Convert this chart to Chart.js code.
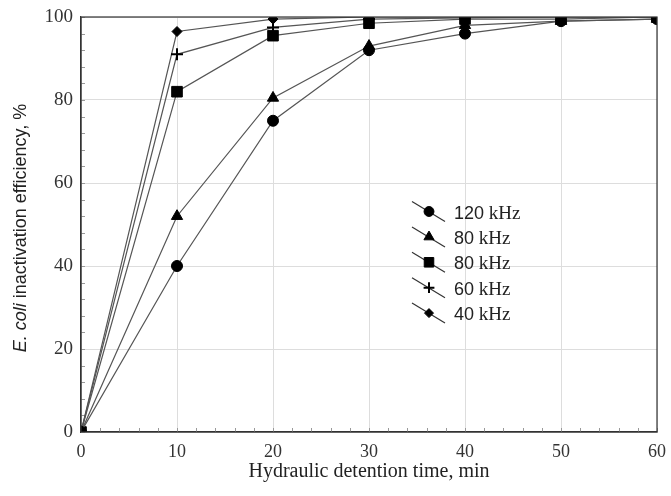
<!DOCTYPE html>
<html><head><meta charset="utf-8">
<script src="https://cdn.jsdelivr.net/npm/chart.js@4"></script>
<style>html,body{margin:0;padding:0;background:#fff}#wrap{width:671px;height:496px}</style>
</head><body><div id="wrap"><canvas id="c" width="671" height="496"></canvas></div>
<script>
const times = [0, 10, 20, 30, 40, 50, 60];
const seriesLabels = ["120 kHz", "80 kHz", "80 kHz", "60 kHz", "40 kHz"];
const s120 = [0, 40, 75, 92, 96, 99, 99.5];
const s80a = [0, 52, 80.5, 93, 98, 99, 99.5];
const s80b = [0, 82, 95.5, 98.5, 99.5, 99.5, 100];
const s60 = [0, 91, 97.5, 99.5, 99.8, 100, 100];
const s40 = [0, 96.5, 99.5, 100, 100, 100, 100];
const pointStyles = ["circle", "triangle", "rect", "cross", "rectRot"];
const pointSizes = [5.5, 6.5, 7.5, 6, 5];
const xTicks = [0, 10, 20, 30, 40, 50, 60];
const yTicks = [0, 20, 40, 60, 80, 100];

const allSeries = [s120, s80a, s80b, s60, s40];
const datasets = allSeries.map((s, i) => ({
  label: seriesLabels[i],
  data: s.map((v, j) => ({x: times[j], y: v})),
  borderColor: '#555',
  borderWidth: 1.2,
  pointStyle: pointStyles[i],
  pointRadius: pointSizes[i],
  pointBorderWidth: pointStyles[i] === 'cross' ? 2 : 1,
  pointBackgroundColor: '#000',
  pointBorderColor: '#000',
  tension: 0
}));

const decor = {
  id: 'decor',
  beforeDatasetsDraw(chart) {
    const {ctx, chartArea: a, scales: {x, y}} = chart;
    ctx.save();
    ctx.strokeStyle = '#999';
    ctx.lineWidth = 1;
    for (let v = 0; v <= 60; v += 2) {
      const px = Math.round(x.getPixelForValue(v)) + 0.5;
      ctx.beginPath(); ctx.moveTo(px, a.bottom); ctx.lineTo(px, a.bottom - 4); ctx.stroke();
    }
    for (let v = 0; v <= 100; v += 4) {
      const py = Math.round(y.getPixelForValue(v)) + 0.5;
      ctx.beginPath(); ctx.moveTo(a.left, py); ctx.lineTo(a.left + 4, py); ctx.stroke();
    }
    ctx.restore();
  },
  afterDraw(chart) {
    const {ctx, chartArea: a} = chart;
    ctx.save();
    ctx.strokeStyle = '#333';
    ctx.lineWidth = 1.2;
    ctx.strokeRect(a.left, a.top, a.right - a.left, a.bottom - a.top);
    ctx.translate(21, 228);
    ctx.rotate(-Math.PI / 2);
    ctx.fillStyle = '#222';
    ctx.textBaseline = 'middle';
    const p1 = 'E. coli', p2 = ' inactivation efficiency, %';
    const fI = 'italic 18px "Liberation Sans", Arial, sans-serif';
    const fN = '18px "Liberation Sans", Arial, sans-serif';
    ctx.font = fI;
    const w1 = ctx.measureText(p1).width;
    ctx.font = fN;
    const w2 = ctx.measureText(p2).width;
    const sx = -(w1 + w2) / 2;
    ctx.font = fI;
    ctx.fillText(p1, sx, 0);
    ctx.font = fN;
    ctx.fillText(p2, sx + w1, 0);
    ctx.restore();

    ctx.save();
    const lx = 429, ly0 = 211.5, dy = 25.4;
    chart.data.datasets.forEach((ds, i) => {
      const cy = ly0 + i * dy;
      ctx.strokeStyle = '#333';
      ctx.lineWidth = 1.2;
      ctx.beginPath(); ctx.moveTo(lx - 17, cy - 10); ctx.lineTo(lx + 16, cy + 10); ctx.stroke();
      ctx.fillStyle = '#000'; ctx.strokeStyle = '#000';
      ctx.lineWidth = ds.pointStyle === 'cross' ? 2 : 1;
      Chart.helpers.drawPoint(ctx, {pointStyle: ds.pointStyle, radius: ds.pointRadius * 0.9, rotation: 0, borderWidth: ctx.lineWidth}, lx, cy);
      const parts = ds.label.split(' ');
      ctx.fillStyle = '#222';
      ctx.textBaseline = 'alphabetic';
      ctx.font = '18px "Liberation Sans", Arial, sans-serif';
      ctx.fillText(parts[0], 454, cy + 7);
      const w = ctx.measureText(parts[0]).width;
      ctx.font = '19px "Liberation Serif", "Times New Roman", serif';
      ctx.fillText(' ' + parts[1], 454 + w, cy + 7);
    });
    ctx.restore();
  }
};

const serif = '"Liberation Serif", "Times New Roman", serif';
new Chart(document.getElementById('c'), {
  type: 'line',
  data: {datasets},
  options: {
    responsive: false,
    animation: false,
    devicePixelRatio: 1,
    layout: {padding: {left: 0, right: 14, top: 17, bottom: 0}},
    plugins: {legend: {display: false}, tooltip: {enabled: false}},
    scales: {
      x: {
        type: 'linear', min: 0, max: 60,
        afterBuildTicks: s => { s.ticks = xTicks.map(v => ({value: v})); },
        afterFit: s => { s.height = 64; s.paddingLeft = 0; s.paddingRight = 0; },
        grid: {color: '#ddd', lineWidth: 1, drawTicks: false},
        border: {color: '#333', width: 1.2},
        ticks: {color: '#333', padding: 9, font: {family: serif, size: 18}},
        title: {display: true, text: 'Hydraulic detention time, min', color: '#222', padding: {top: 0, bottom: 12}, font: {family: serif, size: 20}}
      },
      y: {
        type: 'linear', min: 0, max: 100,
        afterBuildTicks: s => { s.ticks = yTicks.map(v => ({value: v})); },
        afterFit: s => { s.width = 81; s.paddingTop = 0; s.paddingBottom = 0; },
        grid: {color: '#ddd', lineWidth: 1, drawTicks: false},
        border: {color: '#333', width: 1.2},
        ticks: {color: '#333', padding: 8, font: {family: serif, size: 19}}
      }
    }
  },
  plugins: [decor]
});
</script></body></html>
